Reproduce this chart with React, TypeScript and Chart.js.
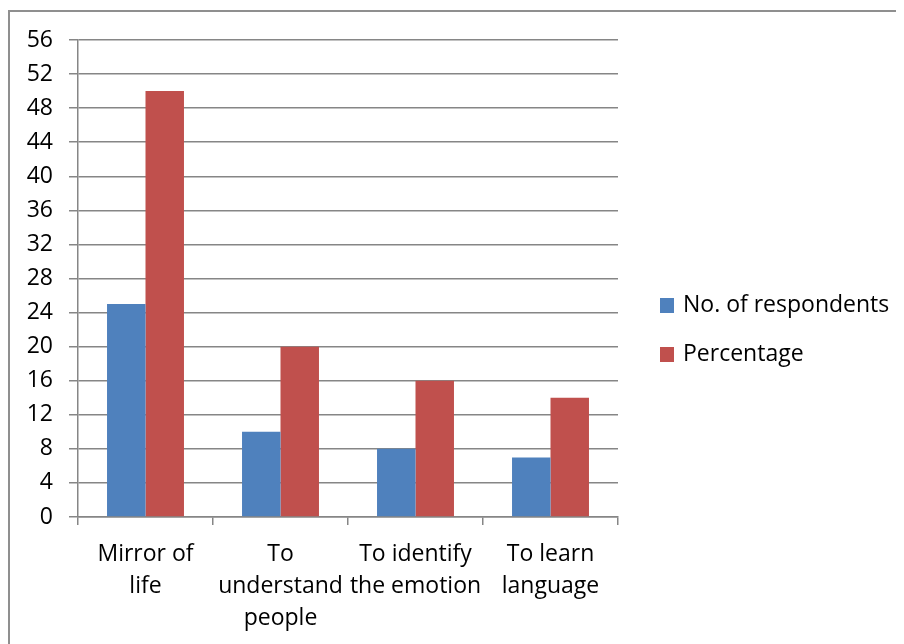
import { useEffect, useRef } from "react";
import Chart from "chart.js/auto";

// Reasons given by respondents
const categories: string[][] = [
  ["Mirror of", "life"],
  ["To", "understand", "people"],
  ["To identify", "the emotion"],
  ["To learn", "language"],
];
const respondents = [25, 10, 8, 7];
const percentage = [50, 20, 16, 14];
const seriesNames = ["No. of respondents", "Percentage"];
const seriesColors = ["#4F81BD", "#C0504D"];
const yMin = 0;
const yMax = 56;
const yStep = 4;

const FONT = "'Open Sans', 'Noto Sans', sans-serif";
const FONT_SIZE = 23;
const AXIS_GRAY = "#868686";

// Outer frame of the figure (top and left edges only show on the page)
const framePlugin = {
  id: "frame",
  beforeDraw(chart: Chart) {
    const { ctx, width, height } = chart;
    ctx.save();
    ctx.strokeStyle = "#8f8f8f";
    ctx.lineWidth = 2;
    ctx.beginPath();
    ctx.moveTo(1, height + 4);
    ctx.lineTo(1, 3);
    ctx.lineTo(width + 4, 3);
    ctx.stroke();
    ctx.restore();
  },
};

// Legend drawn to the right of the plot
const sideLegendPlugin = {
  id: "sideLegend",
  afterDraw(chart: Chart) {
    const { ctx } = chart;
    const x = 652;
    const firstY = 297.5;
    const gap = 49;
    ctx.save();
    ctx.font = `${FONT_SIZE}px ${FONT}`;
    ctx.textBaseline = "middle";
    ctx.textAlign = "left";
    chart.data.datasets.forEach((ds, i) => {
      const cy = firstY + i * gap;
      ctx.fillStyle = ds.backgroundColor as string;
      ctx.fillRect(x, cy - 7.5, 14, 15);
      ctx.fillStyle = "#000";
      ctx.fillText(String(ds.label), x + 23, cy);
    });
    ctx.restore();
  },
};

export default function App() {
  const canvasRef = useRef<HTMLCanvasElement | null>(null);

  useEffect(() => {
    if (!canvasRef.current) return;
    const chart = new Chart(canvasRef.current, {
      type: "bar",
      data: {
        labels: categories,
        datasets: [
          {
            label: seriesNames[0],
            data: respondents,
            backgroundColor: seriesColors[0],
            categoryPercentage: 0.57,
            barPercentage: 1,
          },
          {
            label: seriesNames[1],
            data: percentage,
            backgroundColor: seriesColors[1],
            categoryPercentage: 0.57,
            barPercentage: 1,
          },
        ],
      },
      options: {
        responsive: false,
        animation: false,
        layout: { padding: { top: 32, right: 286, left: 0, bottom: 0 } },
        plugins: {
          legend: { display: false },
          tooltip: { enabled: false },
        },
        scales: {
          x: {
            grid: {
              drawOnChartArea: false,
              drawTicks: true,
              tickLength: 8,
              color: AXIS_GRAY,
              lineWidth: 1.5,
              offset: true,
            },
            border: { color: AXIS_GRAY, width: 1.5 },
            ticks: {
              color: "#000",
              font: { family: FONT, size: FONT_SIZE, lineHeight: 32 / FONT_SIZE },
              padding: 13,
              maxRotation: 0,
              autoSkip: false,
            },
            afterFit: (scale: any) => {
              scale.height = 127;
            },
          },
          y: {
            min: yMin,
            max: yMax,
            grid: { color: AXIS_GRAY, lineWidth: 1.5, tickLength: 9 },
            border: { color: AXIS_GRAY, width: 1.5 },
            ticks: {
              stepSize: yStep,
              color: "#000",
              font: { family: FONT, size: FONT_SIZE },
              padding: 16,
            },
            afterFit: (scale: any) => {
              scale.width = 70;
            },
          },
        },
      },
      plugins: [framePlugin, sideLegendPlugin],
    });
    return () => chart.destroy();
  }, []);

  return (
    <canvas
      ref={canvasRef}
      width={896}
      height={636}
      style={{ display: "block", width: 896, height: 636 }}
    />
  );
}
